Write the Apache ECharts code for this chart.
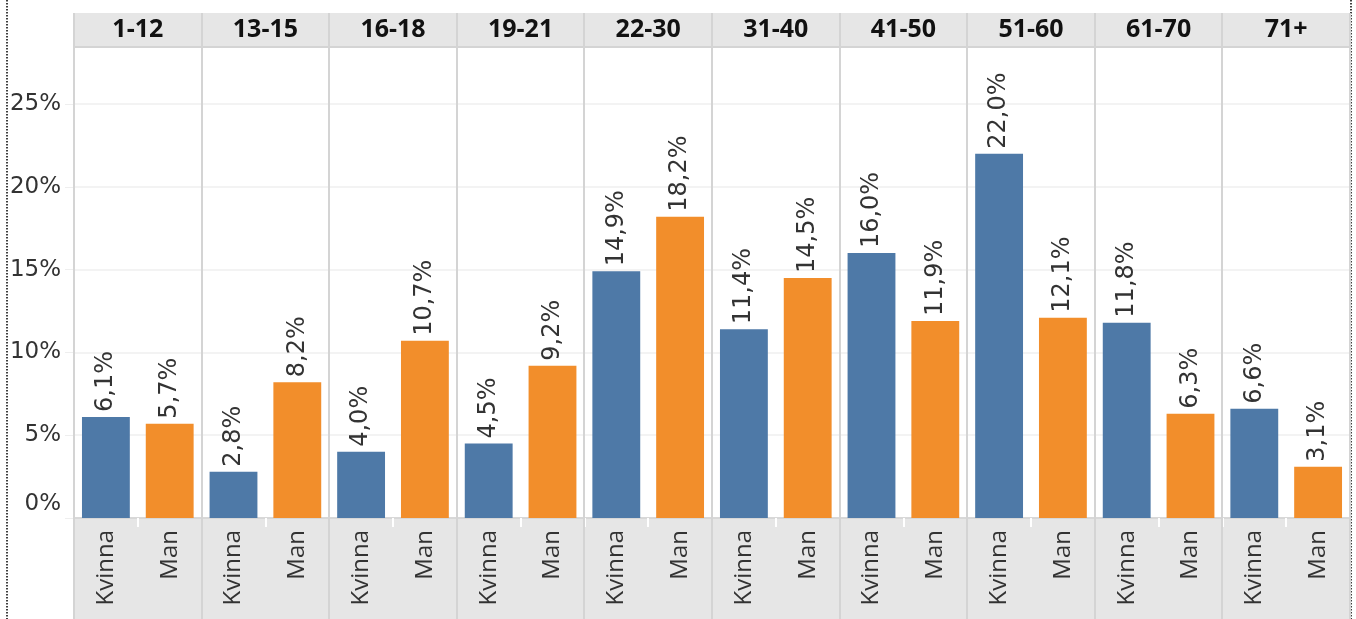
<!DOCTYPE html>
<html><head><meta charset="utf-8">
<script src="https://cdn.jsdelivr.net/npm/echarts@6/dist/echarts.min.js"></script>
<style>html,body{margin:0;padding:0;background:#fff}#c{width:1356px;height:619px}</style>
</head><body><div id="c"></div>
<script>
const ageGroups = ['1-12','13-15','16-18','19-21','22-30','31-40','41-50','51-60','61-70','71+'];
const genders = ['Kvinna','Man'];
const kvinna = [6.1, 2.8, 4.0, 4.5, 14.9, 11.4, 16.0, 22.0, 11.8, 6.6];
const man = [5.7, 8.2, 10.7, 9.2, 18.2, 14.5, 11.9, 12.1, 6.3, 3.1];
const yTicks = [0, 5, 10, 15, 20, 25];

const COLORS = ['#4e79a7', '#f28e2b'];
const TEXT_FONT = '"Open Sans", Lato, sans-serif';
const NUM_FONT = '"DejaVu Sans", "Open Sans", sans-serif';
const L = 74, R = 1350, TOP = 47, BASE = 518, HEAD_TOP = 13, H = 619;
const PW = (R - L) / ageGroups.length;

const chart = echarts.init(document.getElementById('c'), null, {renderer: 'canvas'});
const grid = [], xAxis = [], yAxis = [], series = [];
ageGroups.forEach((g, i) => {
  grid.push({left: L + i * PW, top: TOP, width: PW, height: BASE - TOP, show: false});
  xAxis.push({
    gridIndex: i, type: 'category', data: genders, position: 'bottom',
    axisLine: {show: true, lineStyle: {color: '#cfcfcf', width: 1.5}},
    axisTick: {show: true, length: 9, lineStyle: {color: '#ffffff', width: 2}},
    axisLabel: {rotate: 90, fontSize: 24, color: '#333', fontFamily: TEXT_FONT, margin: 12}
  });
  xAxis.push({
    gridIndex: i, type: 'category', data: [g], position: 'top',
    axisLine: {show: false}, axisTick: {show: false},
    axisLabel: {fontSize: 25, fontWeight: 'bold', color: '#111', fontFamily: TEXT_FONT, margin: 17, verticalAlign: 'middle'}
  });
  yAxis.push({
    gridIndex: i, type: 'value', min: 0, max: 28.45, interval: 5,
    axisLine: {show: false},
    axisTick: {show: i === 0, length: 9, lineStyle: {color: '#eeeeee'}},
    splitLine: {show: true, lineStyle: {color: '#efefef', width: 1.5}},
    axisLabel: {
      show: i === 0, fontSize: 23, color: '#333', fontFamily: NUM_FONT, margin: 13,
      showMaxLabel: false,
      verticalAlignMinLabel: 'bottom',
      formatter: v => v === 0 ? '{z|0%}' : (yTicks.includes(v) ? v + '%' : ''),
      rich: {z: {fontSize: 23, color: '#333', fontFamily: NUM_FONT, padding: [0, 0, 2, 0]}}
    }
  });
  series.push({
    type: 'bar', xAxisIndex: 2 * i, yAxisIndex: i,
    barCategoryGap: '25%',
    data: [
      {value: kvinna[i], itemStyle: {color: COLORS[0]}},
      {value: man[i], itemStyle: {color: COLORS[1]}}
    ],
    label: {
      show: true, position: 'top', rotate: 90, align: 'left', verticalAlign: 'middle',
      distance: 5, fontSize: 24, color: '#333', fontFamily: NUM_FONT,
      formatter: p => p.value.toFixed(1).replace('.', ',') + '%'
    }
  });
});

const graphics = [
  {type: 'rect', z: -10, shape: {x: L, y: HEAD_TOP, width: R - L, height: TOP - HEAD_TOP}, style: {fill: '#e6e6e6'}},
  {type: 'rect', z: -10, shape: {x: L, y: BASE, width: R - L, height: H - BASE}, style: {fill: '#e6e6e6'}},
  {type: 'line', z: 50, shape: {x1: L, y1: TOP, x2: R, y2: TOP}, style: {stroke: '#d4d4d4', lineWidth: 2}},
  {type: 'line', z: 50, shape: {x1: 7, y1: 0, x2: 7, y2: H}, style: {stroke: '#000', lineWidth: 1.5, lineDash: [1.5, 1.5]}},
  {type: 'line', z: 50, shape: {x1: 1351, y1: 0, x2: 1351, y2: H}, style: {stroke: '#000', lineWidth: 1.5, lineDash: [1.5, 1.5]}}
];
for (let i = 0; i <= ageGroups.length; i++) {
  const x = Math.round(L + i * PW);
  graphics.push({type: 'line', z: 50, shape: {x1: x, y1: HEAD_TOP, x2: x, y2: H}, style: {stroke: '#d4d4d4', lineWidth: 2}});
}

chart.setOption({
  animation: false,
  grid, xAxis, yAxis, series,
  graphic: {elements: graphics}
});
</script></body></html>
